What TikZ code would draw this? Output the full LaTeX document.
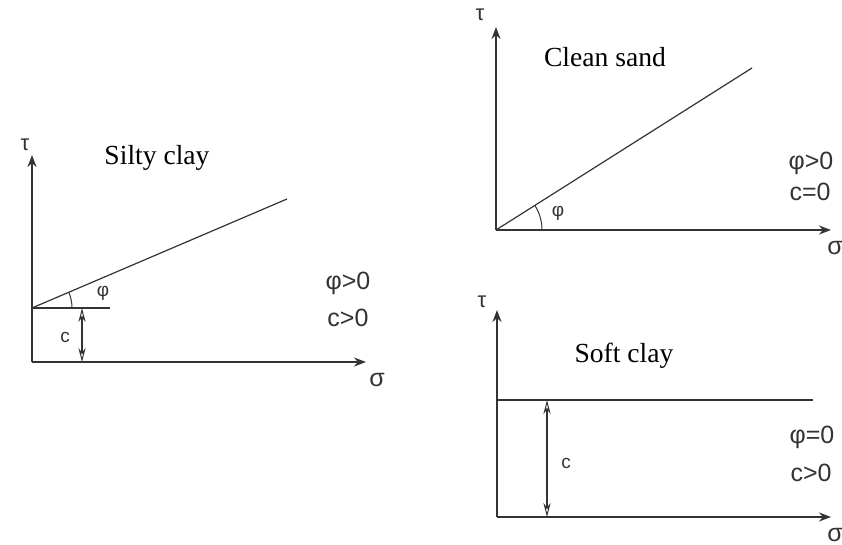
\documentclass[tikz,border=0pt]{standalone}
\usepackage{fontspec}
\setmainfont{Liberation Serif}
\setsansfont{Liberation Sans}
\usetikzlibrary{arrows.meta,angles}
\definecolor{ink}{HTML}{333333}
\begin{document}
\begin{tikzpicture}[x=0.5pt,y=-0.5pt,
  axis/.style={draw=ink,line width=0.9pt,-{Stealth[length=6pt,width=4.5pt]}},
  envl/.style={draw=ink,line width=0.6pt},
  dim/.style={draw=ink,line width=0.9pt,{Stealth[open,length=7pt,width=3.6pt,line width=0.5pt]}-{Stealth[open,length=7pt,width=3.6pt,line width=0.5pt]}},
  title/.style={font=\fontsize{13.8}{16}\selectfont,text=black,inner sep=0pt},
  cond/.style={font=\sffamily\fontsize{12.5}{14}\selectfont,text=ink,inner sep=0pt},
  small/.style={font=\sffamily\fontsize{9.5}{11}\selectfont,text=ink,inner sep=0pt},
  axl/.style={font=\sffamily\fontsize{11}{13}\selectfont,text=ink,inner sep=0pt},
  sgl/.style={font=\sffamily\fontsize{12.5}{14}\selectfont,text=ink,inner sep=0pt},
  arcst/.style={draw=ink,line width=0.5pt}]
\useasboundingbox (0,0) rectangle (842,545);
% ---------- Silty clay ----------
\coordinate (o1) at (32,362);
\coordinate (c1) at (32,308);
\coordinate (y1) at (32,155);
\coordinate (x1) at (366,362);
\coordinate (l1) at (287,199);
\coordinate (h1) at (110,308);
\coordinate (da1) at (82,308);
\coordinate (db1) at (82,362);
\draw[axis] (o1) -- (y1);
\draw[axis] (o1) -- (x1);
\draw[envl] (c1) -- (l1);
\draw[envl] (c1) -- (h1);
\draw[dim] (da1) -- (db1);
\pic[arcst, angle radius=20pt] {angle = h1--c1--l1};
\node[axl] (tau1) at (25,145) {τ};
\node[sgl] (sig1) at (377,380) {σ};
\node[title] (t1) at (157,158) {Silty clay};
\node[small] (phi1) at (103,293) {φ};
\node[small] (cc1) at (65,337) {c};
\node[cond] (k1a) at (348,283) {φ>0};
\node[cond] (k1b) at (348,318) {c>0};
% ---------- Clean sand ----------
\coordinate (o2) at (496,230);
\coordinate (y2) at (496,27);
\coordinate (x2) at (831,230);
\coordinate (l2) at (752,68);
\draw[axis] (o2) -- (y2);
\draw[axis] (o2) -- (x2);
\draw[envl] (o2) -- (l2);
\pic[arcst, angle radius=23pt] {angle = x2--o2--l2};
\node[axl] (tau2) at (480,15) {τ};
\node[sgl] (sig2) at (835,248) {σ};
\node[title] (t2) at (605,57) {Clean sand};
\node[small] (phi2) at (558,213) {φ};
\node[cond] (k2a) at (811,163) {φ>0};
\node[cond] (k2b) at (810,192) {c=0};
% ---------- Soft clay ----------
\coordinate (o3) at (497,517);
\coordinate (y3) at (497,310);
\coordinate (x3) at (831,517);
\coordinate (c3) at (497,400);
\coordinate (h3) at (813,400);
\coordinate (da3) at (547,400);
\coordinate (db3) at (547,517);
\draw[axis] (o3) -- (y3);
\draw[axis] (o3) -- (x3);
\draw[envl] (c3) -- (h3);
\draw[dim] (da3) -- (db3);
\node[axl] (tau3) at (482,302) {τ};
\node[sgl] (sig3) at (835,535) {σ};
\node[title] (t3) at (624,356) {Soft clay};
\node[small] (cc3) at (566,463) {c};
\node[cond] (k3a) at (812,437) {φ=0};
\node[cond] (k3b) at (811,473) {c>0};
\end{tikzpicture}
\end{document}
